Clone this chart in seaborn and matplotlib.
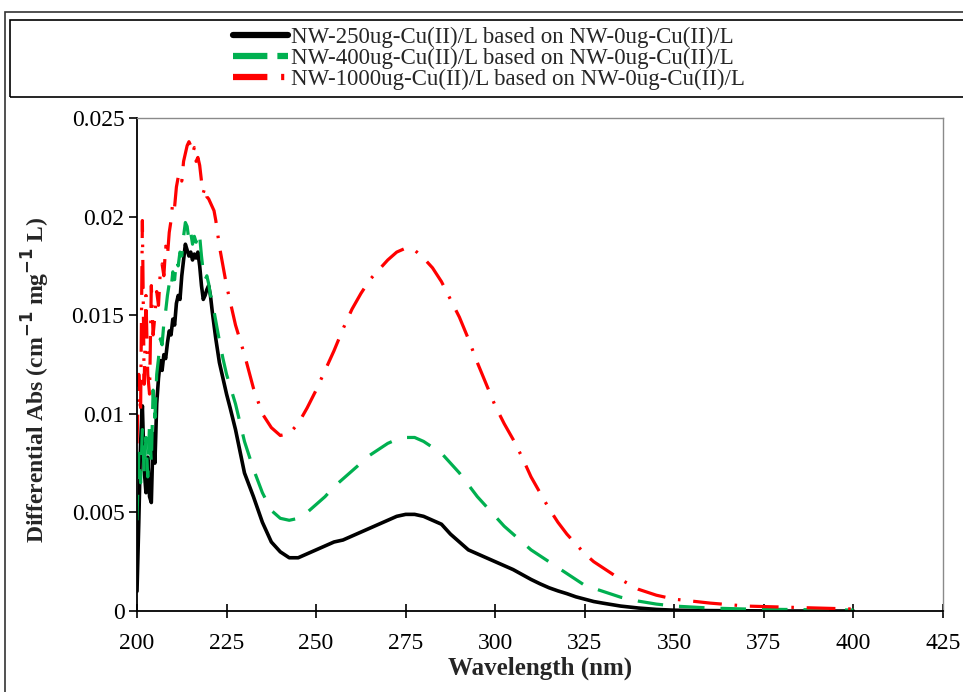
import numpy as np
import pandas as pd
import matplotlib
matplotlib.use("Agg")
import matplotlib.pyplot as plt
from matplotlib.patches import Rectangle
import seaborn as sns

# ---------------- data ----------------
wavelength = [
    200.0, 200.5, 201.0, 201.5, 202.0, 202.5, 203.0, 203.5, 204.0, 204.5,
    205.0, 205.5, 206.0, 206.5, 207.0, 207.5, 208.0, 208.5, 209.0, 209.5,
    210.0, 210.5, 211.0, 211.5, 212.0, 212.5, 213.0, 213.5, 214.0, 214.5,
    215.0, 215.5, 216.0, 216.5, 217.0, 217.5, 218.0, 218.5, 219.0, 219.5,
    220.0, 220.5, 221.0, 221.5, 222.0,
    223, 224, 225, 226, 227.5,
    230, 232.5, 235, 237.5, 240,
    242.5, 245, 247.5, 250, 252.5,
    255, 257.5, 260, 262.5, 265,
    267.5, 270, 272.5, 275, 277.5,
    280, 282.5, 285, 287.5, 290,
    292.5, 295, 297.5, 300, 302.5,
    305, 307.5, 310, 312.5, 315,
    317.5, 320, 322.5, 325, 327.5,
    330, 335, 340, 345, 350,
    355, 360, 370, 380, 390, 400,
]

nw250 = [
    0.0010, 0.0045, 0.0085, 0.0104, 0.0072, 0.0060, 0.0078, 0.0058, 0.0055, 0.0090,
    0.0075, 0.0105, 0.0118, 0.0127, 0.0122, 0.0130, 0.0128, 0.0136, 0.0142, 0.0140,
    0.0148, 0.0145, 0.0156, 0.0160, 0.0158, 0.0170, 0.0178, 0.0186, 0.0183, 0.0180,
    0.0182, 0.0178, 0.0181, 0.0179, 0.0182, 0.0175, 0.0165, 0.0158, 0.0160, 0.0163,
    0.0165, 0.0160, 0.0152, 0.0145, 0.0138,
    0.0126, 0.0118, 0.0110, 0.0103, 0.0092,
    0.0070, 0.0058, 0.0045, 0.0035, 0.0030,
    0.0027, 0.0027, 0.0029, 0.0031, 0.0033,
    0.0035, 0.0036, 0.0038, 0.0040, 0.0042,
    0.0044, 0.0046, 0.0048, 0.0049, 0.0049,
    0.0048, 0.0046, 0.0044, 0.0039, 0.0035,
    0.0031, 0.0029, 0.0027, 0.0025, 0.0023,
    0.0021, 0.00185, 0.0016, 0.00138, 0.00118,
    0.00102, 0.00088, 0.00072, 0.0006, 0.00048,
    0.0004, 0.00025, 0.00015, 0.00008, 0.00004,
    0.00003, 0.00002, 0.00001, 0.0, 0.0, 0.0,
]

nw400 = [
    0.0046, 0.0080, 0.0065, 0.0092, 0.0070, 0.0088, 0.0068, 0.0095, 0.0075, 0.0112,
    0.0098, 0.0120, 0.0128, 0.0138, 0.0135, 0.0146, 0.0152, 0.0160, 0.0166, 0.0163,
    0.0172, 0.0168, 0.0178, 0.0175, 0.0182, 0.0180, 0.0190, 0.0197, 0.0195, 0.0188,
    0.0192, 0.0186, 0.0190, 0.0187, 0.0192, 0.0190, 0.0180, 0.0172, 0.0168, 0.0170,
    0.0166, 0.0160, 0.0158, 0.0152, 0.0147,
    0.0137, 0.0128, 0.0120, 0.0114, 0.0105,
    0.0086, 0.0072, 0.0060, 0.0051, 0.0047,
    0.0046, 0.0047, 0.0050, 0.0054, 0.0058,
    0.0063, 0.0067, 0.0071, 0.0075, 0.0079,
    0.0082, 0.0085, 0.0087, 0.0088, 0.0088,
    0.0086, 0.0083, 0.0080, 0.0075, 0.0070,
    0.0064, 0.0058, 0.0053, 0.0048, 0.0043,
    0.0039, 0.0035, 0.0031, 0.0028, 0.0025,
    0.0022, 0.0019, 0.0016, 0.0013, 0.00115,
    0.0010, 0.0007, 0.0005, 0.00035, 0.00025,
    0.0002, 0.00015, 0.0001, 0.00008, 0.00006, 0.00005,
]

nw1000 = [
    0.0085, 0.0120, 0.0100, 0.0198, 0.0115, 0.0160, 0.0120, 0.0110, 0.0165, 0.0140,
    0.0150, 0.0162, 0.0155, 0.0172, 0.0176, 0.0170, 0.0185, 0.0180, 0.0192, 0.0198,
    0.0208, 0.0205, 0.0215, 0.0220, 0.0222, 0.0218, 0.0228, 0.0232, 0.0236, 0.0238,
    0.0236, 0.0232, 0.0235, 0.0228, 0.0230, 0.0226, 0.0218, 0.0212, 0.0215, 0.0210,
    0.0209, 0.0207, 0.0205, 0.0203, 0.0198,
    0.0185, 0.0175, 0.0165, 0.0157, 0.0145,
    0.0130, 0.0113, 0.0100, 0.0093, 0.0089,
    0.0090, 0.0095, 0.0103, 0.0112, 0.0122,
    0.0132, 0.0143, 0.0153, 0.0161, 0.0168,
    0.0173, 0.0178, 0.0182, 0.0184, 0.0183,
    0.0179, 0.0174, 0.0167, 0.0158, 0.0149,
    0.0138, 0.0126, 0.0115, 0.0104, 0.0095,
    0.0087, 0.0078, 0.0068, 0.0060, 0.0052,
    0.0045, 0.0039, 0.0034, 0.0029, 0.0025,
    0.0022, 0.0016, 0.0011, 0.0008, 0.0006,
    0.0005, 0.0004, 0.00025, 0.0002, 0.00015, 0.0001,
]

labels = [
    "NW-250ug-Cu(II)/L based on NW-0ug-Cu(II)/L",
    "NW-400ug-Cu(II)/L based on NW-0ug-Cu(II)/L",
    "NW-1000ug-Cu(II)/L based on NW-0ug-Cu(II)/L",
]
x_ticks = [200, 225, 250, 275, 300, 325, 350, 375, 400, 425]
y_ticks = [0, 0.005, 0.01, 0.015, 0.02, 0.025]
y_tick_labels = ["0", "0.005", "0.01", "0.015", "0.02", "0.025"]

# ---------------- style ----------------
sns.set_theme(style="ticks")
plt.rcParams["font.family"] = ["Liberation Serif", "DejaVu Serif"]

W, H = 963, 692
fig = plt.figure(figsize=(W / 100, H / 100), dpi=100)
fig.patch.set_facecolor("white")
ax = fig.add_axes([137 / W, 1 - 611 / H, (943 - 137) / W, (611 - 118) / H])
ax.set_facecolor("white")

df = pd.DataFrame({"wl": wavelength, "a": nw250, "b": nw400, "c": nw1000})

lw = 2.3
sns.lineplot(data=df, x="wl", y="a", ax=ax, color="black", linewidth=lw + 0.3,
             estimator=None, label=labels[0])
sns.lineplot(data=df, x="wl", y="b", ax=ax, color="#00B050", linewidth=lw,
             estimator=None, label=labels[1], linestyle=(0, (8, 5)))
sns.lineplot(data=df, x="wl", y="c", ax=ax, color="#FF0000", linewidth=lw,
             estimator=None, label=labels[2], linestyle=(0, (9, 4, 0.8, 4)))

handles, labs = ax.get_legend_handles_labels()
if ax.get_legend() is not None:
    ax.get_legend().remove()

ax.set_xlim(200, 425)
ax.set_ylim(0, 0.025)
ax.set_xticks(x_ticks)
ax.set_yticks(y_ticks)
ax.set_yticklabels(y_tick_labels)

for s in ["left", "bottom"]:
    ax.spines[s].set_color("black")
    ax.spines[s].set_linewidth(1.3)
for s in ["top", "right"]:
    ax.spines[s].set_color("#8a8a8a")
    ax.spines[s].set_linewidth(1.0)

ax.tick_params(axis="x", direction="inout", length=10, width=1.2, pad=11,
               labelsize=17, colors="black")
ax.tick_params(axis="y", direction="out", length=6, width=1.2, pad=3,
               labelsize=17, colors="black")

ax.set_xlabel("Wavelength (nm)", fontsize=18, fontweight="bold", labelpad=2)
ax.set_ylabel("Differential Abs (cm$^{\\mathbf{-1}}$ mg$^{\\mathbf{-1}}$ L)",
              fontsize=17, fontweight="bold", labelpad=8)
ax.yaxis.set_label_coords(-0.106, 0.47)

# outer frame and legend frame
fig.patches.append(Rectangle((5 / W, -0.1), 1.2, 1 - 12 / H + 0.1,
                             transform=fig.transFigure, fill=False,
                             edgecolor="#333333", linewidth=1.2, zorder=0))
fig.patches.append(Rectangle((10 / W, 1 - 97 / H), 1.2, (97 - 20) / H,
                             transform=fig.transFigure, fill=False,
                             edgecolor="black", linewidth=1.2, zorder=0))

leg = fig.legend(handles, labs, loc="center", bbox_to_anchor=(489 / W, 1 - 58.5 / H),
                 frameon=False, fontsize=16.5, handlelength=2.4, handletextpad=0.1,
                 labelspacing=0.0, borderpad=0)
leg_lines = leg.get_lines()
leg_lines[0].set_linewidth(4.5)
leg_lines[1].set_linewidth(4.5)
leg_lines[1].set_dashes([5.5, 1.6, 2.0, 10])
leg_lines[2].set_linewidth(4.5)
leg_lines[2].set_dashes([5.5, 2.2, 0.5, 10])

fig.savefig("out.png", dpi=100, facecolor="white")
